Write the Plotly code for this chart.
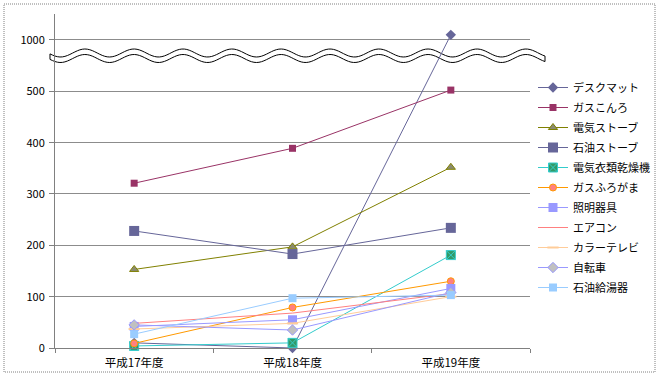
import numpy as np
import plotly.graph_objects as go

years = ["平成17年度", "平成18年度", "平成19年度"]
series_names = ["デスクマット", "ガスこんろ", "電気ストーブ", "石油ストーブ", "電気衣類乾燥機",
                "ガスふろがま", "照明器具", "エアコン", "カラーテレビ", "自転車", "石油給湯器"]
desk_mat = [10, 0, 1050]
gas_stove = [321, 389, 512]
elec_heater = [153, 197, 352]
oil_heater = [228, 183, 234]
dryer = [4, 10, 181]
gas_bath = [9, 79, 130]
lighting = [42, 55, 116]
aircon = [48, 68, 106]
color_tv = [37, 48, 100]
bicycle = [45, 35, 108]
oil_water_heater = [27, 97, 103]
values = [desk_mat, gas_stove, elec_heater, oil_heater, dryer, gas_bath,
          lighting, aircon, color_tv, bicycle, oil_water_heater]

tick_vals = [0, 100, 200, 300, 400, 500, 1000]
tick_labels = ["0", "100", "200", "300", "400", "500", "1000"]

# broken axis: above 500 the scale is compressed 5x (500 -> 1000 spans one step)
def disp(v):
    return v if v <= 500 else 500 + (v - 500) / 5.0

styles = [
    dict(line=dict(color="#666699", width=1), marker=dict(symbol="diamond", size=8, color="#666699")),
    dict(line=dict(color="#993366", width=1), marker=dict(symbol="square", size=7, color="#993366")),
    dict(line=dict(color="#808000", width=1), marker=dict(symbol="triangle-up", size=8, color="#8a8a70",
                                                          line=dict(color="#808000", width=1))),
    dict(line=dict(color="#666699", width=1), marker=dict(symbol="square", size=10, color="#666699")),
    dict(line=dict(color="#33CCCC", width=1), marker=dict(symbol="square-x", size=9, color="#339966",
                                                          line=dict(color="#33CCCC", width=1))),
    dict(line=dict(color="#FF9900", width=1), marker=dict(symbol="circle", size=7, color="#FF8080",
                                                          line=dict(color="#FF9900", width=1))),
    dict(line=dict(color="#9999FF", width=1), marker=dict(symbol="square", size=9, color="#9999FF")),
    dict(line=dict(color="#FF8080", width=1), marker=dict(size=1, opacity=0), mode="lines"),
    dict(line=dict(color="#FFCC99", width=1), marker=dict(symbol="line-ew", size=8, color="#FFCC99",
                                                          line=dict(color="#FFCC99", width=2))),
    dict(line=dict(color="#9999FF", width=1), marker=dict(symbol="diamond", size=8, color="#C0C0C0",
                                                          line=dict(color="#9999FF", width=1))),
    dict(line=dict(color="#99CCFF", width=1), marker=dict(symbol="square", size=8, color="#99CCFF")),
]

fig = go.Figure()
for i, (name, vals, st) in enumerate(zip(series_names, values, styles)):
    mode = st.get("mode", "lines+markers")
    fig.add_trace(go.Scatter(x=years, y=[disp(v) for v in vals], name=name, mode=mode,
                             legendgroup=f"g{i}",
                             line=st["line"], marker=st["marker"], cliponaxis=False))

W, H = 661, 377
L, R, T, B = 55, 131, 14, 29
pw, ph = W - L - R, H - T - B

def px(x):
    return (x - L) / pw

def py(y):
    return (H - B - y) / ph

# wavy break band (decoration)
xs = np.linspace(50, 545, 200)
top = 53 - 4 * np.cos(2 * np.pi * (xs - 85) / 49)
bot = top + 5.5
pts = [(px(a), py(b)) for a, b in zip(xs, top)] + [(px(a), py(b)) for a, b in zip(xs[::-1], bot[::-1])]
path = "M " + " L ".join(f"{a:.5f},{b:.5f}" for a, b in pts) + " Z"

shapes = [
    dict(type="path", path=path, xref="paper", yref="paper", fillcolor="white",
         line=dict(color="black", width=1), layer="between"),
    dict(type="rect", xref="paper", yref="paper", x0=px(4), x1=px(655), y0=py(4), y1=py(372),
         line=dict(color="#808080", width=1, dash="1px,1px"), layer="below"),
]

font = "Noto Sans CJK JP, Arial, sans-serif"
fig.update_layout(
    width=W, height=H, margin=dict(l=L, r=R, t=T, b=B, autoexpand=False),
    paper_bgcolor="white", plot_bgcolor="white",
    font=dict(family=font, size=10, color="black"),
    shapes=shapes,
    showlegend=True,
    legend=dict(x=px(533), y=py(73), xanchor="left", yanchor="top", font=dict(size=11),
                bgcolor="rgba(0,0,0,0)", tracegroupgap=1),
    xaxis=dict(type="category", range=[-0.5, 2.5], showgrid=False, showline=True, linecolor="#808080",
               ticks="outside", tickson="boundaries", ticklen=4, tickcolor="#808080",
               tickfont=dict(size=11.5), ticklabelstandoff=4, automargin=False),
    yaxis=dict(range=[0, 650.6], tickvals=[disp(v) for v in tick_vals], ticktext=tick_labels,
               showgrid=True, gridcolor="#8c8c8c", gridwidth=1, showline=True, linecolor="#808080",
               ticks="outside", ticklen=5, tickcolor="#808080", zeroline=False,
               tickfont=dict(size=11), ticklabelstandoff=2, automargin=False),
)

fig.write_html("out.html", config={"displayModeBar": False},
               post_script="document.body.style.margin='0';")
